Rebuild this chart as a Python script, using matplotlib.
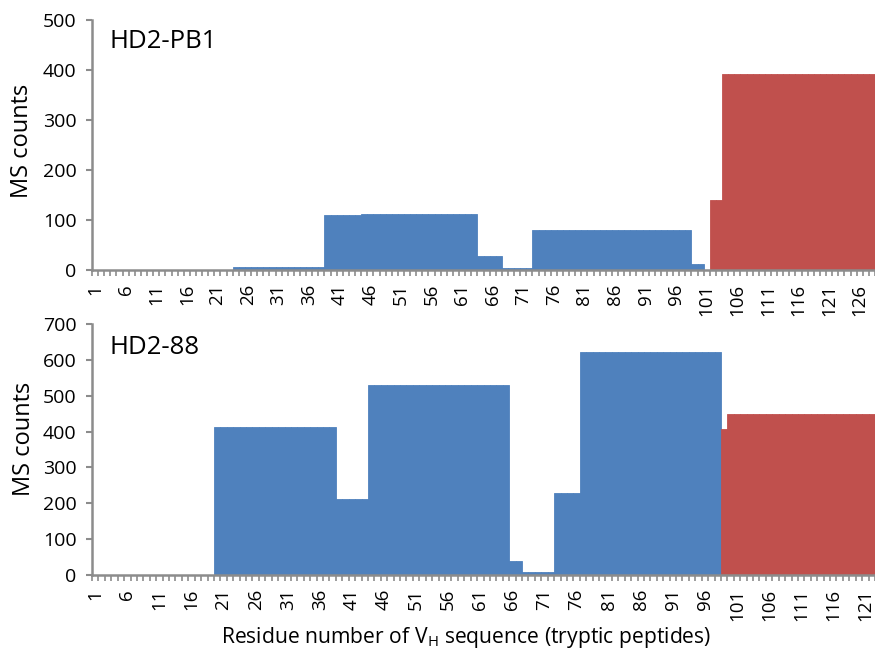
import matplotlib
matplotlib.use("Agg")
import matplotlib.pyplot as plt
import numpy as np

plt.rcParams['font.family'] = ['Open Sans', 'DejaVu Sans']
plt.rcParams['mathtext.fontset'] = 'custom'
plt.rcParams['mathtext.rm'] = 'Open Sans'

# ---- data (peptide segments: first residue, last residue, MS counts, colour key) ----
top_title = "HD2-PB1"
top_n_residues = 128
top_start = [24, 39, 45, 64, 68, 73, 99, 102, 104]
top_end = [38, 44, 63, 67, 72, 98, 100, 103, 128]
top_counts = [7, 110, 113, 28, 5, 80, 13, 140, 392]
top_kind = ['b', 'b', 'b', 'b', 'b', 'b', 'b', 'r', 'r']
top_yticks = [0, 100, 200, 300, 400, 500]

bot_title = "HD2-88"
bot_n_residues = 122
bot_start = [20, 39, 44, 66, 68, 73, 77, 99, 100]
bot_end = [38, 43, 65, 67, 72, 76, 98, 99, 122]
bot_counts = [413, 212, 530, 40, 9, 228, 622, 406, 448]
bot_kind = ['b', 'b', 'b', 'b', 'b', 'b', 'b', 'r', 'r']
bot_yticks = [0, 100, 200, 300, 400, 500, 600, 700]

xlabel_step = 5
COLORS = {'b': '#4F81BD', 'r': '#C0504D'}
AXIS_GREY = '#8C8C8C'

W, H = 875, 653
fig = plt.figure(figsize=(W / 100, H / 100), dpi=100)


def expand(n, starts, ends, counts, kinds):
    heights = np.zeros(n)
    cols = ['#FFFFFF'] * n
    for s, e, c, k in zip(starts, ends, counts, kinds):
        for r in range(s, e + 1):
            heights[r - 1] = c
            cols[r - 1] = COLORS[k]
    return heights, cols


def panel(rect, n, starts, ends, counts, kinds, yticks, title, title_y):
    ax = fig.add_axes(rect)
    res = np.arange(1, n + 1)
    heights, cols = expand(n, starts, ends, counts, kinds)
    ax.bar(res, heights, width=1.0, color=cols, edgecolor=cols, linewidth=0.6)
    ax.set_xlim(0.5, n + 0.5)
    ax.set_ylim(yticks[0], yticks[-1])
    ax.set_yticks(yticks)
    ax.set_xticks(np.arange(1, n + 1, xlabel_step))
    ax.set_xticklabels([str(v) for v in range(1, n + 1, xlabel_step)], rotation=90)
    ax.set_xticks(np.arange(0.5, n + 1.0, 1.0), minor=True)
    ax.tick_params(axis='x', which='major', length=0, pad=10, labelsize=13.5)
    ax.tick_params(axis='x', which='minor', length=4.5, width=1.2, color=AXIS_GREY, direction='out')
    ax.tick_params(axis='y', which='major', length=4, width=1.5, color=AXIS_GREY, labelsize=14, pad=7)
    for side in ['top', 'right']:
        ax.spines[side].set_visible(False)
    for side in ['left', 'bottom']:
        ax.spines[side].set_color(AXIS_GREY)
        ax.spines[side].set_linewidth(1.8)
    ax.text(0.022, title_y, title, transform=ax.transAxes, fontsize=18.5, va='center', ha='left')
    return ax


ax1 = panel([92 / W, 1 - 270 / H, (W - 92) / W, 250 / H], top_n_residues,
            top_start, top_end, top_counts, top_kind, top_yticks, top_title, 0.915)
ax2 = panel([92 / W, 1 - 575 / H, (W - 92) / W, 251 / H], bot_n_residues,
            bot_start, bot_end, bot_counts, bot_kind, bot_yticks, bot_title, 0.905)

fig.text(22 / W, 1 - 141 / H, "MS counts", rotation=90, fontsize=17, ha='center', va='center')
fig.text(24 / W, 1 - 439 / H, "MS counts", rotation=90, fontsize=17, ha='center', va='center')
fig.text(466 / W, 1 - 637 / H, r"Residue number of V$_{\mathrm{H}}$ sequence (tryptic peptides)",
         fontsize=15.2, ha='center', va='center')

fig.savefig("out.png", dpi=100)
